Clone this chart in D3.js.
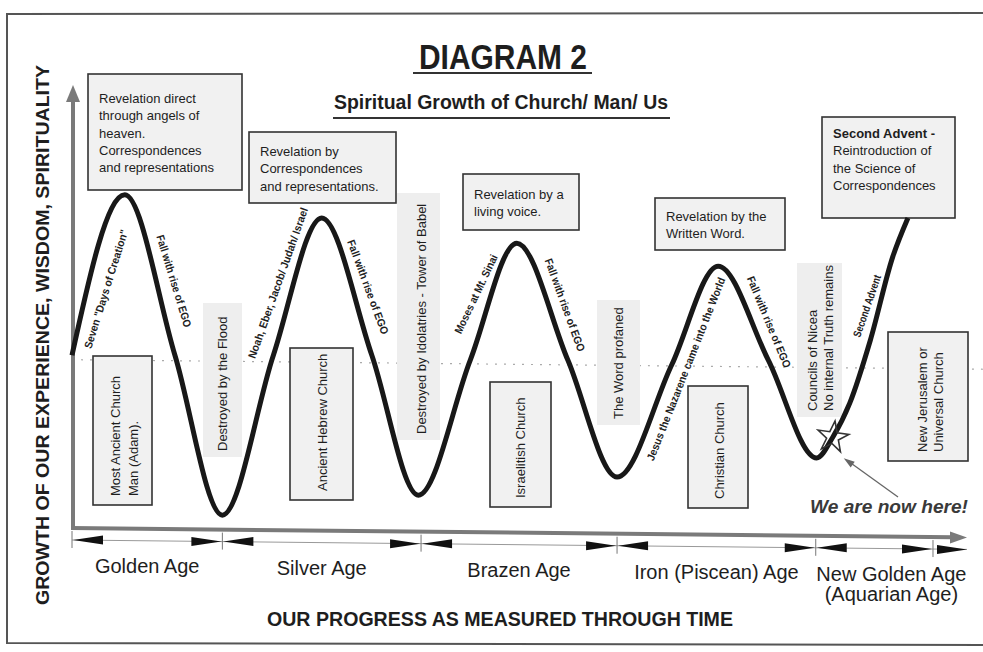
<!DOCTYPE html>
<html lang="en">
<head>
<meta charset="utf-8">
<title>Diagram 2</title>
<script src="https://d3js.org/d3.v7.min.js"></script>
<style>
body{margin:0;background:#fff;}
svg text{font-family:"Liberation Sans", Arial, sans-serif; fill:#1e1e1e;}
svg .narrow{font-family:"Liberation Sans Narrow","Liberation Sans",Arial,sans-serif;}
</style>
</head>
<body>
<script>
var w = 983, h = 652;

// time runs 0-100 along the x axis, growth 0-100 up the y axis
var curveTime   = [0, 5.9, 11.5, 16.8, 22.5, 27.9, 33.5, 38.7, 44.5, 49.7, 55.4, 60.9, 67.0, 72.2, 77.8, 83.2, 85.0, 86.9, 89.2, 91.7, 93.4];
var curveGrowth = [39, 75.2, 39, 2.9, 39, 70, 39, 7.4, 37.9, 64.3, 37.9, 11.5, 36.8, 59.1, 37.9, 15.8, 20.5, 28.2, 42.4, 61.2, 70];

var ages      = ["Golden Age", "Silver Age", "Brazen Age", "Iron (Piscean) Age", "New Golden Age"];
var ageStart  = [0, 16.8, 39, 60.9, 83.1];
var ageEnd    = [16.8, 39, 60.9, 83.1, 96.2];
var middleLevel = 38;
var nowTime = 85.0, nowGrowth = 20.5;

var revelations = [
  ["Revelation direct", "through angels of", "heaven.", "Correspondences", "and representations"],
  ["Revelation by", "Correspondences", "and representations."],
  ["Revelation by a", "living voice."],
  ["Revelation by the", "Written Word."],
  ["Second Advent -", "Reintroduction of", "the Science of", "Correspondences"]
];
var churches = [
  ["Most Ancient Church", "Man (Adam)."],
  ["Ancient Hebrew Church"],
  ["Israelitish Church"],
  ["Christian Church"],
  ["New Jerusalem or", "Universal Church"]
];
var endings = [
  ["Destroyed by the Flood"],
  ["Destroyed by Idolatries - Tower of Babel"],
  ["The Word profaned"],
  ["Councils of Nicea", "No internal Truth remains"]
];
var slopeNotes = ["Seven \"Days of Creation\"", "Fall with rise of EGO", "Noah, Eber, Jacob/ Judah/ Israel",
  "Fall with rise of EGO", "Moses at Mt. Sinai", "Fall with rise of EGO",
  "Jesus the Nazarene came into the World", "Fall with rise of EGO", "Second Advent"];

var svg = d3.select("body").append("svg")
  .attr("width", w).attr("height", h);

var x = d3.scaleLinear().domain([0, 100]).range([72, 967]);
var y = d3.scaleLinear().domain([0, 100]).range([528, 85]);
// the scan is tilted a little: right side sits lower
function tilt(px){ return (px - 72) * 0.0105; }

// outer frame
svg.append("path")
  .attr("d", "M983,13 L7,14 L7,643 L983,645")
  .attr("fill", "none").attr("stroke", "#555").attr("stroke-width", 2);

// titles
svg.append("text").attr("x", 503).attr("y", 69).attr("text-anchor", "middle")
  .attr("font-size", 35).attr("font-weight", "bold")
  .attr("textLength", 168).attr("lengthAdjust", "spacingAndGlyphs")
  .text("DIAGRAM  2");
svg.append("line").attr("x1", 413).attr("x2", 592).attr("y1", 73).attr("y2", 73)
  .attr("stroke", "#333").attr("stroke-width", 2.2);
svg.append("text").attr("x", 501).attr("y", 109).attr("text-anchor", "middle")
  .attr("font-size", 20).attr("font-weight", "bold")
  .attr("textLength", 334).attr("lengthAdjust", "spacingAndGlyphs")
  .text("Spiritual Growth of Church/ Man/ Us");
svg.append("line").attr("x1", 333).attr("x2", 670).attr("y1", 118).attr("y2", 118)
  .attr("stroke", "#333").attr("stroke-width", 2);

// y axis title
svg.append("text").attr("transform", "translate(49,335) rotate(-90)")
  .attr("text-anchor", "middle").attr("font-size", 18).attr("font-weight", "bold")
  .attr("textLength", 540).attr("lengthAdjust", "spacingAndGlyphs")
  .text("GROWTH OF OUR EXPERIENCE, WISDOM, SPIRITUALITY");

// dotted middle line
svg.append("line")
  .attr("x1", x(0)).attr("y1", y(middleLevel))
  .attr("x2", 985).attr("y2", y(middleLevel) + tilt(985))
  .attr("stroke", "#aaa").attr("stroke-width", 1.2).attr("stroke-dasharray", "2,7");

// shaded "ending" labels
var endBoxes = [[203,303,242,457],[397,193,440,440],[597,300,640,425],[797,263,842,417]];
var endCols = [[222],[421],[618],[812,828]];
endings.forEach(function(lines, i){
  var b = endBoxes[i];
  svg.append("rect").attr("x", b[0]).attr("y", b[1]).attr("width", b[2]-b[0]).attr("height", b[3]-b[1])
    .attr("fill", "#eeeeee");
  lines.forEach(function(t, j){
    svg.append("text").attr("transform", "translate(" + (endCols[i][j] + 5) + "," + (b[3]-6) + ") rotate(-90)")
      .attr("font-size", 13).text(t);
  });
});

// axes
svg.append("line").attr("x1", x(0)+1).attr("y1", y(0)).attr("x2", x(0)+1).attr("y2", y(100)+14)
  .attr("stroke", "#7a7a7a").attr("stroke-width", 4);
svg.append("path")
  .attr("d", "M" + (x(0)+1) + "," + y(100) + " L" + (x(0)+8) + "," + (y(100)+17) + " L" + (x(0)-6) + "," + (y(100)+17) + "Z")
  .attr("fill", "#7a7a7a");
svg.append("line").attr("x1", x(0)-1).attr("y1", y(0)).attr("x2", x(100)-14).attr("y2", y(0)+tilt(x(100)-14))
  .attr("stroke", "#7a7a7a").attr("stroke-width", 4);
svg.append("path")
  .attr("d", "M" + x(100) + "," + (y(0)+tilt(x(100))) + " L" + (x(100)-17) + "," + (y(0)+tilt(x(100))-6) +
    " L" + (x(100)-17) + "," + (y(0)+tilt(x(100))+6) + "Z")
  .attr("fill", "#7a7a7a");

// age ranges row
var rowY = function(px){ return 540 + tilt(px); };
svg.append("line").attr("x1", x(0)).attr("y1", rowY(x(0))).attr("x2", x(100)).attr("y2", rowY(x(100)))
  .attr("stroke", "#999").attr("stroke-width", 1);
function wedge(px, dir){
  var yy = rowY(px);
  return "M" + px + "," + yy + " L" + (px + dir*30) + "," + (yy-4.5) + " L" + (px + dir*30) + "," + (yy+4.5) + "Z";
}
ages.forEach(function(a, i){
  var xs = x(ageStart[i]) + 1, xe = x(ageEnd[i]) - 1;
  svg.append("line").attr("x1", x(ageStart[i])).attr("x2", x(ageStart[i]))
    .attr("y1", rowY(x(ageStart[i])) - 9).attr("y2", rowY(x(ageStart[i])) + 8)
    .attr("stroke", "#777").attr("stroke-width", 1);
  svg.append("path").attr("d", wedge(xs, 1)).attr("fill", "#111");
  svg.append("path").attr("d", wedge(xe, -1)).attr("fill", "#111");
  var next = i < ages.length - 1 ? ageStart[i+1] : 100;
  var cx = x((ageStart[i] + next) / 2);
  svg.append("text").attr("x", cx).attr("y", 572.5 + tilt(cx)).attr("text-anchor", "middle")
    .attr("class", "narrow").attr("font-size", 20).text(a);
});
svg.append("line").attr("x1", x(96.2)).attr("x2", x(96.2))
  .attr("y1", rowY(x(96.2)) - 9).attr("y2", rowY(x(96.2)) + 8).attr("stroke", "#777");
svg.append("path").attr("d", wedge(x(100), -1)).attr("fill", "#111");
svg.append("text").attr("x", x(91.55)).attr("y", 601).attr("text-anchor", "middle")
  .attr("class", "narrow").attr("font-size", 20).text("(Aquarian Age)");

svg.append("text").attr("x", 500).attr("y", 626).attr("text-anchor", "middle")
  .attr("class", "narrow").attr("font-size", 20).attr("font-weight", "bold")
  .attr("textLength", 466).attr("lengthAdjust", "spacingAndGlyphs")
  .text("OUR PROGRESS AS MEASURED THROUGH TIME");

// revelation boxes
var revBoxes = [[88,74,242,190],[249,132,396,203],[463,174,579,230],[655,198,785,250],[822,117,955,218]];
var revFirst = [103, 156, 199, 221, 138];
revelations.forEach(function(lines, i){
  var b = revBoxes[i];
  svg.append("rect").attr("x", b[0]).attr("y", b[1]).attr("width", b[2]-b[0]).attr("height", b[3]-b[1])
    .attr("fill", "#f1f1f1").attr("stroke", "#333").attr("stroke-width", 1.6);
  lines.forEach(function(t, j){
    svg.append("text").attr("x", b[0] + 11).attr("y", revFirst[i] + j * 17.3)
      .attr("font-size", 13).attr("font-weight", (i === 4 && j === 0) ? "bold" : "normal")
      .text(t);
  });
});

// church boxes (vertical)
var churchBoxes = [[93,356,152,505],[290,348,353,500],[490,382,551,507],[688,386,748,508],[888,332,968,461]];
var churchCols = [[115,133],[322],[520],[719],[922,938]];
churches.forEach(function(lines, i){
  var b = churchBoxes[i];
  svg.append("rect").attr("x", b[0]).attr("y", b[1]).attr("width", b[2]-b[0]).attr("height", b[3]-b[1])
    .attr("fill", "#f1f1f1").attr("stroke", "#333").attr("stroke-width", 1.6);
  lines.forEach(function(t, j){
    svg.append("text").attr("transform", "translate(" + (churchCols[i][j] + 5) + "," + (b[3]-9) + ") rotate(-90)")
      .attr("font-size", 13).text(t);
  });
});

// the growth curve
var pts = curveTime.map(function(t, i){ return [t, curveGrowth[i]]; });
var line = d3.line()
  .x(function(d){ return x(d[0]); })
  .y(function(d){ return y(d[1]); })
  .curve(d3.curveMonotoneX);
svg.append("path").datum(pts).attr("d", line)
  .attr("fill", "none").attr("stroke", "#181818").attr("stroke-width", 5)
  .attr("stroke-linejoin", "round").attr("stroke-linecap", "butt");

// slanted notes along the slopes
var notePos = [[106,289,-72.6,124],[174,281,73,96],[278,283,-70.5,159],[368,287,69.7,100],
  [476,294,-64.6,86],[565,305,70,98],[686,369,-68.4,196],[769,322,67.5,98],[867,306,-71,65]];
slopeNotes.forEach(function(t, i){
  var p = notePos[i];
  svg.append("text").attr("transform", "translate(" + p[0] + "," + p[1] + ") rotate(" + p[2] + ")")
    .attr("text-anchor", "middle").attr("dy", "0.35em")
    .attr("class", "narrow").attr("font-size", 11).attr("font-weight", "bold")
    .attr("textLength", p[3]).attr("lengthAdjust", "spacingAndGlyphs")
    .text(t);
});

// "now" star and pointer
svg.append("path")
  .attr("d", d3.symbol().type(d3.symbolStar).size(300)())
  .attr("transform", "translate(" + x(nowTime) + "," + y(nowGrowth) + ") rotate(8)")
  .attr("fill", "none").attr("stroke", "#333").attr("stroke-width", 1.6);
var ax1 = 898, ay1 = 497, ax2 = x(nowTime) + 11, ay2 = y(nowGrowth) + 21;
svg.append("line").attr("x1", ax1).attr("y1", ay1).attr("x2", ax2 + 6).attr("y2", ay2 + 4)
  .attr("stroke", "#666").attr("stroke-width", 1.3);
var ang = Math.atan2(ay2 - ay1, ax2 - ax1);
svg.append("path")
  .attr("d", "M0,0 L-11,-3.5 L-11,3.5Z")
  .attr("transform", "translate(" + ax2 + "," + ay2 + ") rotate(" + (ang * 180 / Math.PI) + ")")
  .attr("fill", "#666");
svg.append("text").attr("x", 889).attr("y", 513).attr("text-anchor", "middle")
  .attr("font-size", 19).attr("font-weight", "bold").attr("font-style", "italic")
  .attr("textLength", 158).attr("lengthAdjust", "spacingAndGlyphs")
  .style("fill", "#3a3a3a")
  .text("We are now here!");
</script>
</body>
</html>
